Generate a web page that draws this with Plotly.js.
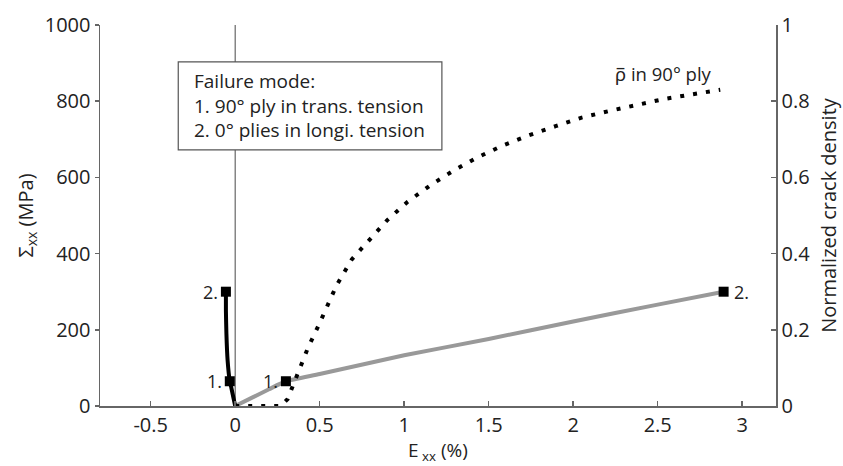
<!DOCTYPE html>
<html>
<head>
<meta charset="utf-8">
<script src="https://cdn.plot.ly/plotly-3.0.1.min.js"></script>
<style>html,body{margin:0;padding:0;background:#fff;}#chart{width:843px;height:466px;}</style>
</head>
<body>
<div id="chart"></div>
<script>
// Stress-strain (longitudinal, gray)
const longStrain = [0, 0.1, 0.2, 0.3, 0.5, 1.0, 1.5, 2.0, 2.5, 2.89];
const longStress = [0, 22, 44, 65, 84, 133, 176, 222, 266, 300];
// Stress-strain (transverse, black)
const transStrain = [0, -0.012, -0.024, -0.032, -0.045, -0.052, -0.055, -0.055];
const transStress = [0, 25, 50, 65, 120, 190, 250, 300];
// Normalized crack density in 90° ply
const crackStrain = [0, 0.27, 0.31, 0.37, 0.43, 0.50, 0.60, 0.69, 0.80, 0.90, 1.02, 1.16, 1.30, 1.44, 1.59, 1.74, 1.90, 2.05, 2.21, 2.37, 2.53, 2.69, 2.87];
const crackDensity = [0, 0, 0.018, 0.086, 0.152, 0.218, 0.317, 0.385, 0.44, 0.488, 0.536, 0.581, 0.62, 0.654, 0.685, 0.711, 0.735, 0.757, 0.774, 0.79, 0.805, 0.817, 0.83];
// Failure points
const failStrain = [-0.032, -0.055, 0.3, 2.89];
const failStress = [65, 300, 65, 300];
const failLabels = ['1.', '2.', '1.', '2.'];
const failLabelSide = ['left', 'left', 'left', 'right'];
const xTicks = [-0.5, 0, 0.5, 1, 1.5, 2, 2.5, 3];
// Text box lines
const boxLines = ['Failure mode:', '1. 90° ply in trans. tension', '2. 0° plies in longi. tension'];

const FONT = 'Open Sans, Noto Sans, sans-serif';
const TXT = '#222';
const AX = '#666';

const traces = [
  {x: crackStrain, y: crackDensity, yaxis: 'y2', mode: 'lines',
   line: {color: '#000', width: 4, dash: '4px,9px'}, hoverinfo: 'skip'},
  {x: longStrain, y: longStress, mode: 'lines',
   line: {color: '#999', width: 4, shape: 'spline', smoothing: 0.5}, hoverinfo: 'skip'},
  {x: transStrain, y: transStress, mode: 'lines',
   line: {color: '#000', width: 4, shape: 'spline', smoothing: 0.5}, hoverinfo: 'skip'},
  {x: failStrain, y: failStress, mode: 'markers',
   marker: {symbol: 'square', size: 10, color: '#000'}, hoverinfo: 'skip'}
];

const annotations = failStrain.map((xv, i) => ({
  x: xv, y: failStress[i], xref: 'x', yref: 'y', showarrow: false,
  text: failLabels[i],
  xanchor: failLabelSide[i] === 'left' ? 'right' : 'left',
  xshift: failLabelSide[i] === 'left' ? -6 : 8,
  font: {family: FONT, size: 18, color: TXT}
}));
annotations.push({
  x: -0.256, y: 789, xref: 'x', yref: 'y', xanchor: 'left', yanchor: 'middle',
  showarrow: false, align: 'left', text: boxLines.join('<br>'),
  font: {family: FONT, size: 19, color: TXT}
});
annotations.push({
  x: 2.535, y: 874, xref: 'x', yref: 'y', showarrow: false,
  text: 'ρ\u0305 in 90° ply',
  font: {family: FONT, size: 18.5, color: TXT}
});

const layout = {
  width: 843, height: 466,
  margin: {l: 100, r: 67, t: 25, b: 60},
  paper_bgcolor: '#fff', plot_bgcolor: '#fff',
  showlegend: false,
  font: {family: FONT, size: 20, color: TXT},
  xaxis: {
    range: [-0.8, 3.2], tickvals: xTicks, ticktext: xTicks.map(String),
    showline: true, linecolor: AX, linewidth: 1.5,
    ticks: 'inside', ticklen: 5, tickcolor: AX, tickwidth: 1.5,
    showgrid: false, zeroline: false,
    tickfont: {family: FONT, size: 20, color: TXT},
    title: {text: 'E<sub> xx</sub> (%)', font: {family: FONT, size: 19, color: TXT}, standoff: 4}
  },
  yaxis: {
    range: [0, 1000], dtick: 200, tick0: 0, tickformat: 'd',
    showline: true, linecolor: AX, linewidth: 1.5,
    ticks: 'outside', ticklen: 4, tickcolor: AX, tickwidth: 1.5,
    showgrid: false, zeroline: false,
    tickfont: {family: FONT, size: 20, color: TXT},
    title: {text: 'Σ<sub>xx</sub> (MPa)', font: {family: FONT, size: 20, color: TXT}, standoff: 6}
  },
  yaxis2: {
    overlaying: 'y', side: 'right', range: [0, 1], dtick: 0.2, tick0: 0,
    showline: true, linecolor: AX, linewidth: 1.5,
    ticks: 'inside', ticklen: 5, tickcolor: AX, tickwidth: 1.5,
    showgrid: false, zeroline: false,
    tickfont: {family: FONT, size: 20, color: TXT},
    title: {text: 'Normalized crack density', font: {family: FONT, size: 20, color: TXT}, standoff: 13}
  },
  shapes: [
    {type: 'line', xref: 'x', yref: 'y', x0: 0, x1: 0, y0: 0, y1: 1000,
     line: {color: AX, width: 1.2}, layer: 'below'},
    {type: 'rect', xref: 'x', yref: 'y', x0: -0.337, x1: 1.223, y0: 672, y1: 903,
     line: {color: '#555', width: 1.2}, fillcolor: '#fff', layer: 'above'}
  ],
  annotations: annotations
};

Plotly.newPlot('chart', traces, layout, {staticPlot: true});
</script>
</body>
</html>
